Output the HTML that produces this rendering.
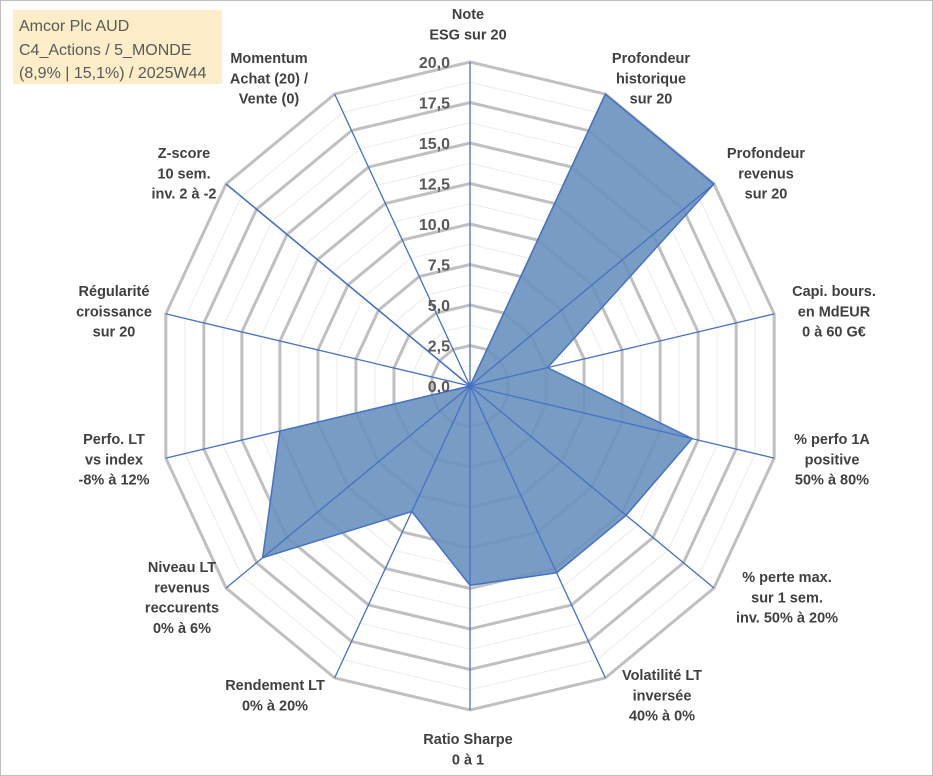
<!DOCTYPE html>
<html><head><meta charset="utf-8"><style>
body{margin:0;background:#fff;}
#wrap{position:relative;width:933px;height:776px;overflow:hidden;font-family:"Liberation Sans",Arial,sans-serif;}
svg text{font-family:"Liberation Sans",Arial,sans-serif;}
</style></head><body>
<div id="wrap">
<svg id="chart" width="933" height="776">
<rect x="0.5" y="0.5" width="932" height="775" fill="#fff" stroke="#bfbfbf"/>
<rect x="13" y="10" width="209" height="74" fill="#fdeec9"/>
<text x="19" y="31" font-size="16" fill="#595959">Amcor Plc AUD</text>
<text x="19" y="55" font-size="16" fill="#595959">C4_Actions / 5_MONDE</text>
<text x="19" y="78" font-size="16" fill="#595959">(8,9% | 15,1%) / 2025W44</text>
<g id="grid"></g><g id="series"></g><g id="spokes"></g><g id="ticks"></g><g id="labels"></g>
</svg>
</div>
<script>
const categories = [
 ["Note","ESG sur 20"],
 ["Profondeur","historique","sur 20"],
 ["Profondeur","revenus","sur 20"],
 ["Capi. bours.","en MdEUR","0 à 60 G€"],
 ["% perfo 1A","positive","50% à 80%"],
 ["% perte max.","sur 1 sem.","inv. 50% à 20%"],
 ["Volatilité LT","inversée","40% à 0%"],
 ["Ratio Sharpe","0 à 1"],
 ["Rendement LT","0% à 20%"],
 ["Niveau LT","revenus","reccurents","0% à 6%"],
 ["Perfo. LT","vs index","-8% à 12%"],
 ["Régularité","croissance","sur 20"],
 ["Z-score","10 sem.","inv. 2 à -2"],
 ["Momentum","Achat (20) /","Vente (0)"]
];
const values = [0, 20, 20, 5.1, 14.6, 12.8, 12.8, 12.3, 8.6, 17.0, 12.5, 0, 20, 0];
const tickValues = [0,2.5,5,7.5,10,12.5,15,17.5,20];
const tickLabels = ["0,0","2,5","5,0","7,5","10,0","12,5","15,0","17,5","20,0"];
const maxVal = 20;
const labelLayout = [[468,19],[651,63],[766,158],[834,296],[832,444],[787,582],[662,680],[468,744],[275,690],[182,572],[114,444],[114,296],[184,158],[269,63]];
const cx=470, cy=386, RX=312, RY=324, N=categories.length;
const NS="http://www.w3.org/2000/svg";
function pt(i,v){const a=2*Math.PI*i/N;const f=v/maxVal;return [cx+f*RX*Math.sin(a), cy-f*RY*Math.cos(a)];}
function mk(tag,attrs,parent){const e=document.createElementNS(NS,tag);for(const k in attrs)e.setAttribute(k,attrs[k]);parent.appendChild(e);return e;}
const grid=document.getElementById('grid');
for(let v=1.25; v<=maxVal+0.01; v+=1.25){
 const major=Math.abs(v/2.5-Math.round(v/2.5))<1e-6;
 const pts=[];for(let i=0;i<N;i++)pts.push(pt(i,v).join(','));
 const p=mk('polygon',{points:pts.join(' '),fill:'none',stroke:major?'#c0c0c0':'#ececec','stroke-width':major?3:1},grid);
 
 
}
const series=document.getElementById('series');
const sp=values.map((v,i)=>pt(i,v).join(',')).join(' ');
const poly=mk('polygon',{points:sp,fill:'#6a91bf','fill-opacity':'0.9',stroke:'#4472c4','stroke-width':1.5},series);


const spokes=document.getElementById('spokes');
for(let i=0;i<N;i++){
 const [x,y]=pt(i,maxVal);
 const l=mk('line',{x1:cx,y1:cy,x2:x,y2:y,stroke:'#4472c4','stroke-width':1.3},spokes);
 
 
}
const ticks=document.getElementById('ticks');
tickValues.forEach((v,k)=>{
 const t=mk('text',{x:cx-20,y:cy-v/maxVal*RY+6,'text-anchor':'end','font-size':16,'font-weight':'bold',fill:'#595959'},ticks);
 t.textContent=tickLabels[k];
 
 
});
const labels=document.getElementById('labels');
categories.forEach((lines,i)=>{
 const [x,y]=labelLayout[i];
 const t=mk('text',{x:x,y:y,'text-anchor':'middle','font-size':14.5,'font-weight':'bold',fill:'#404040'},labels);
 
 
 lines.forEach((s,j)=>{const ts=mk('tspan',{x:x,y:y+j*20.3},t);ts.textContent=s;});
});
</script>
</body></html>
